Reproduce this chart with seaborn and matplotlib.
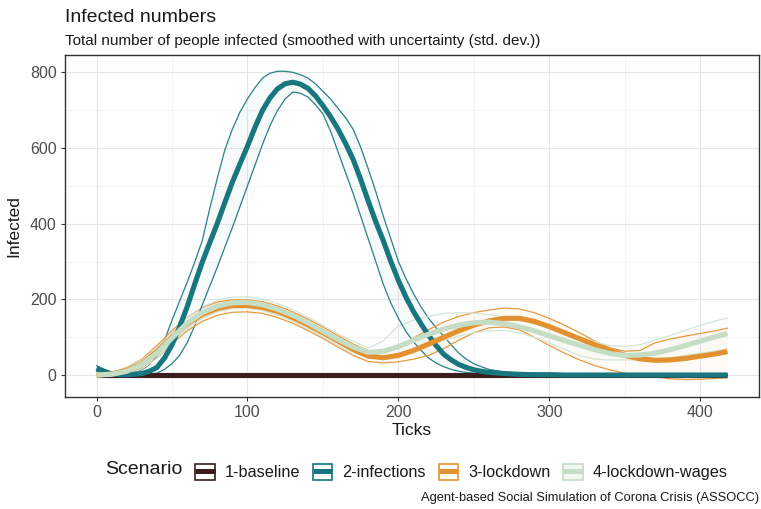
import matplotlib
matplotlib.use("Agg")
import matplotlib.pyplot as plt
from matplotlib.patches import Patch
from matplotlib.lines import Line2D
from matplotlib.legend_handler import HandlerTuple
from matplotlib.ticker import MultipleLocator
import seaborn as sns
import pandas as pd

sns.set_style("white")
plt.rcParams["font.family"] = ["Liberation Sans", "DejaVu Sans"]

# ----------------------------
# Data
# ----------------------------
ticks = [0, 10, 20, 30, 40, 50, 60, 70, 80, 90, 100, 110, 120, 130, 140, 150,
         160, 170, 180, 190, 200, 210, 220, 230, 240, 250, 260, 270, 280, 290,
         300, 310, 320, 330, 340, 350, 360, 370, 380, 390, 400, 410, 418]

# the infections curve moves fast, so it was read every 5 ticks up to 260
ticks_inf = [0, 5, 10, 15, 20, 25, 30, 35, 40, 45, 50, 55, 60, 65, 70, 75, 80,
             85, 90, 95, 100, 105, 110, 115, 120, 125, 130, 135, 140, 145, 150,
             155, 160, 165, 170, 175, 180, 185, 190, 195, 200, 205, 210, 215,
             220, 225, 230, 235, 240, 245, 250, 255, 260, 270, 280, 290, 300,
             310, 320, 330, 340, 350, 360, 370, 380, 390, 400, 410, 418]

scenarios = ["1-baseline", "2-infections", "3-lockdown", "4-lockdown-wages"]

baseline_mean = [0] * 43

infections_mean = [18, 10, 3, 1, 1, 2, 4, 10, 20, 45, 80, 127, 180, 240, 298, 350, 401,
                   456, 510, 558, 605, 655, 700, 733, 757, 770, 774, 769, 758, 738, 712,
                   683, 650, 612, 570, 517, 460, 405, 355, 300, 250, 206, 168, 135,
                   105, 78, 55, 40, 28, 20, 14, 10, 7, 4, 2, 1, 1,
                   0, 0, 0, 0, 0, 0, 0, 0, 0, 0, 0, 0]
infections_upper = [25, 15, 8, 5, 5, 8, 14, 28, 50, 92, 145, 195, 245, 298, 355, 440, 520,
                    595, 650, 695, 730, 760, 785, 798, 803, 803, 800, 794, 785, 770, 750,
                    730, 705, 680, 650, 602, 545, 485, 420, 360, 300, 255, 215, 180,
                    150, 125, 103, 80, 58, 42, 30, 22, 15, 8, 4, 2, 1,
                    1, 1, 1, 1, 1, 1, 1, 1, 1, 1, 1, 1]
infections_lower = [10, 4, 0, 0, 0, 0, 0, 2, 5, 15, 30, 52, 85, 130, 185, 235, 285,
                    338, 390, 445, 500, 555, 610, 660, 700, 730, 748, 745, 735, 715, 690,
                    645, 590, 535, 480, 420, 360, 300, 240, 190, 150, 115, 88, 65,
                    45, 32, 22, 15, 10, 7, 5, 3, 2, 1, 0, 0, 0,
                    0, 0, 0, 0, 0, 0, 0, 0, 0, 0, 0, 0]

lockdown_mean = [0, 3, 12, 30, 62, 100, 135, 160, 176, 184, 184, 179, 168, 152, 133, 112,
                 90, 68, 50, 46, 52, 65, 82, 100, 117, 132, 143, 150, 150, 142,
                 128, 112, 96, 80, 65, 52, 43, 39, 40, 44, 50, 56, 62]
lockdown_upper = [2, 6, 20, 42, 78, 118, 152, 178, 193, 199, 199, 194, 183, 167, 148, 127,
                  104, 82, 65, 60, 75, 98, 120, 140, 155, 165, 172, 177, 175, 165,
                  150, 132, 112, 90, 72, 63, 65, 85, 95, 103, 110, 117, 124]
lockdown_lower = [-2, 0, 5, 18, 45, 82, 117, 142, 158, 166, 167, 163, 152, 137, 118, 97,
                  74, 52, 36, 32, 35, 42, 52, 70, 92, 112, 125, 127, 120, 100,
                  78, 58, 40, 25, 14, 5, 0, -5, -10, -12, -11, -9, -7]

wages_mean = [0, 2, 10, 28, 58, 98, 137, 165, 182, 191, 192, 186, 174, 158, 138, 116,
              94, 74, 60, 63, 75, 92, 108, 122, 132, 138, 140, 136, 128, 117,
              104, 91, 79, 67, 57, 52, 53, 58, 67, 78, 90, 101, 110]
wages_upper = [5, 8, 18, 40, 72, 112, 152, 180, 197, 206, 207, 201, 189, 173, 153, 131,
               109, 89, 72, 90, 130, 145, 155, 163, 165, 164, 160, 153, 145, 135,
               124, 113, 100, 88, 78, 76, 80, 92, 105, 118, 132, 143, 151]
wages_lower = [-5, -3, 3, 16, 44, 84, 122, 150, 167, 176, 177, 171, 159, 143, 123, 101,
               79, 59, 46, 42, 48, 62, 78, 92, 103, 112, 117, 118, 112, 100,
               85, 68, 52, 42, 40, 40, 40, 42, 46, 52, 58, 64, 70]

colors = {"1-baseline": "#3b1d1d", "2-infections": "#17767e",
          "3-lockdown": "#e3912f", "4-lockdown-wages": "#c5dcc5"}
band_colors = {"1-baseline": "#3b1d1d", "2-infections": "#2a8088",
               "3-lockdown": "#e69a42", "4-lockdown-wages": "#d3e5d3"}

frames = []
for name, x, m, lo, hi in zip(
        scenarios,
        [ticks, ticks_inf, ticks, ticks],
        [baseline_mean, infections_mean, lockdown_mean, wages_mean],
        [baseline_mean, infections_lower, lockdown_lower, wages_lower],
        [baseline_mean, infections_upper, lockdown_upper, wages_upper]):
    frames.append(pd.DataFrame({"Ticks": x, "Infected": m,
                                "lower": lo, "upper": hi, "Scenario": name}))
df = pd.concat(frames, ignore_index=True)

# ----------------------------
# Plot
# ----------------------------
fig, ax = plt.subplots(figsize=(7.61, 5.09), dpi=100)
fig.subplots_adjust(left=0.0854, right=0.9974, bottom=0.22, top=0.892)

# ribbons (faint fill + outline) for the std. dev.
for name in scenarios[1:]:
    sub = df[df["Scenario"] == name]
    ax.fill_between(sub["Ticks"], sub["lower"], sub["upper"],
                    color=colors[name], alpha=0.035, linewidth=0, zorder=1)
band_df = df[df["Scenario"] != "1-baseline"]
for col in ["upper", "lower"]:
    sns.lineplot(data=band_df, x="Ticks", y=col, hue="Scenario",
                 palette=band_colors, hue_order=scenarios[1:], linewidth=0.9,
                 errorbar=None, legend=False, ax=ax, zorder=2)

# smoothed means
sns.lineplot(data=df, x="Ticks", y="Infected", hue="Scenario",
             palette=colors, hue_order=scenarios, linewidth=3.7,
             errorbar=None, legend=False, ax=ax, zorder=3,
             solid_capstyle="butt")

ax.set_xlim(-20.9, 438.9)
ax.set_ylim(-58, 846)
ax.xaxis.set_major_locator(MultipleLocator(100))
ax.xaxis.set_minor_locator(MultipleLocator(50))
ax.yaxis.set_major_locator(MultipleLocator(200))
ax.yaxis.set_minor_locator(MultipleLocator(100))
ax.grid(which="major", color="#e6e6e6", linewidth=0.8, zorder=0)
ax.grid(which="minor", color="#f0f0f0", linewidth=0.6, zorder=0)
ax.set_axisbelow(True)
for s in ax.spines.values():
    s.set_color("#333333")
    s.set_linewidth(1.0)
ax.tick_params(which="major", length=3, width=0.8, color="#333333",
               labelsize=11.5, labelcolor="#4d4d4d", pad=3,
               bottom=True, left=True)
ax.tick_params(which="minor", length=0)

ax.set_xlabel("Ticks", fontsize=12.5, color="#1a1a1a", labelpad=2)
ax.set_ylabel("Infected", fontsize=12.5, color="#1a1a1a", labelpad=6)

fig.text(65 / 761, 1 - 22 / 509, "Infected numbers", fontsize=14,
         color="#1a1a1a", va="baseline", ha="left")
fig.text(65 / 761, 1 - 44.5 / 509,
         "Total number of people infected (smoothed with uncertainty (std. dev.))",
         fontsize=11, color="#1a1a1a", va="baseline", ha="left")
fig.text(759 / 761, 1 - 501 / 509,
         "Agent-based Social Simulation of Corona Crisis (ASSOCC)",
         fontsize=9.3, color="#1a1a1a", va="baseline", ha="right")

# legend: box outline with the mean line through it, as in the ggplot key
fig.text(105 / 761, 1 - 470 / 509, "Scenario", fontsize=14,
         color="#1a1a1a", va="center", ha="left")
handles = []
for name in scenarios:
    fill = "white" if name != "4-lockdown-wages" else "#f1f7f1"
    box = Patch(facecolor=fill, edgecolor=colors[name], linewidth=1.2)
    line = Line2D([], [], color=colors[name], linewidth=3.6,
                  solid_capstyle="butt")
    handles.append((box, line))
fig.legend(handles, scenarios, loc="center left",
           bbox_to_anchor=(195 / 761, 1 - 472 / 509), ncol=4, frameon=False,
           fontsize=11.7, handlelength=1.2, handleheight=1.2,
           handletextpad=0.62, columnspacing=0.78, borderpad=0,
           borderaxespad=0, labelcolor="#1a1a1a",
           handler_map={tuple: HandlerTuple(ndivide=1, pad=0)})

fig.savefig("out.png", dpi=100)
